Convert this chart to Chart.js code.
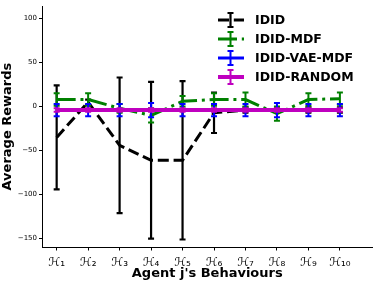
<!DOCTYPE html>
<html>
<head>
<meta charset="utf-8">
<script src="https://cdn.jsdelivr.net/npm/chart.js@4"></script>
<style>
	html, body { margin: 0; padding: 0; background: #fff; }
	#wrap { width: 374px; height: 283px; }
</style>
</head>
<body>
<div id="wrap"><canvas id="chart_rewards" width="374" height="283"></canvas></div>
<script>
// behaviours on the x axis
var behaviours = [1, 2, 3, 4, 5, 6, 7, 8, 9, 10];
var behaviour_labels = ["ℋ₁", "ℋ₂", "ℋ₃", "ℋ₄", "ℋ₅", "ℋ₆", "ℋ₇", "ℋ₈", "ℋ₉", "ℋ₁₀"];
var y_ticks = [-150, -100, -50, 0, 50, 100];

// mean rewards and error per method
var idid_mean = [-35, 5, -44, -61, -61, -7, -4, -4, -4, -4];
var idid_err = [59, 3, 77, 89, 90, 23, 3, 3, 3, 3];
var mdf_mean = [8, 8, -2, -10, 6, 8, 8, -8, 8, 9];
var mdf_err = [7, 7, 5, 8, 6, 7, 8, 8, 7, 7];
var vae_mean = [-4, -4, -4, -4, -4, -4, -4, -4, -4, -4];
var vae_err = [7, 7, 7, 8, 7, 7, 7, 8, 7, 7];
var random_mean = [-4, -4, -4, -4, -4, -4, -4, -4, -4, -4];
var random_err = [2, 2, 2, 2, 2, 2, 2, 2, 2, 2];

var series_names = ["IDID", "IDID-MDF", "IDID-VAE-MDF", "IDID-RANDOM"];

function points(values)
{
	return behaviours.map(function(b, i){ return { x: b, y: values[i] }; });
}

function minus(v)
{
	return String(v).replace("-", "\u2212");
}

//error bars, drawn right after each dataset's line
var errorbar_plugin = {
	id: 'errorbars',
	afterDatasetDraw: function(chart, args)
	{
		var ds = chart.data.datasets[args.index];
		var xs = chart.scales.x, ys = chart.scales.y;
		var ctx = chart.ctx;
		ctx.save();
		ctx.strokeStyle = ds.borderColor;
		ctx.lineWidth = ds.errWidth;
		ctx.setLineDash([]);
		ds.data.forEach(function(p, i){
			var x = xs.getPixelForValue(p.x);
			var top = ys.getPixelForValue(p.y + ds.errors[i]);
			var bot = ys.getPixelForValue(p.y - ds.errors[i]);
			ctx.beginPath();
			ctx.moveTo(x, top); ctx.lineTo(x, bot);
			ctx.moveTo(x - 3, top); ctx.lineTo(x + 3, top);
			ctx.moveTo(x - 3, bot); ctx.lineTo(x + 3, bot);
			ctx.stroke();
		});
		ctx.restore();
	}
};

//legend with errorbar glyphs, no frame
var legend_plugin = {
	id: 'errlegend',
	afterDraw: function(chart)
	{
		var ctx = chart.ctx;
		var rows = [20, 39, 58, 77];
		ctx.save();
		chart.data.datasets.forEach(function(ds, i){
			var cy = rows[i];
			ctx.strokeStyle = ds.borderColor;
			ctx.lineWidth = ds.borderWidth;
			ctx.setLineDash(ds.borderDash || []);
			ctx.beginPath();
			ctx.moveTo(218, cy); ctx.lineTo(244, cy);
			ctx.stroke();
			ctx.setLineDash([]);
			ctx.lineWidth = ds.errWidth;
			ctx.beginPath();
			ctx.moveTo(230.5, cy - 7); ctx.lineTo(230.5, cy + 7);
			ctx.moveTo(227.5, cy - 7); ctx.lineTo(233.5, cy - 7);
			ctx.moveTo(227.5, cy + 7); ctx.lineTo(233.5, cy + 7);
			ctx.stroke();
			ctx.fillStyle = '#000';
			ctx.font = 'bold 12.5px "DejaVu Sans"';
			ctx.textBaseline = 'middle';
			ctx.fillText(ds.label, 255, cy + 1);
		});
		ctx.restore();
	}
};

var params_rewards = {
	type: 'line',
	data: {
		datasets: [
			{
				label: series_names[0], data: points(idid_mean), errors: idid_err,
				borderColor: '#000000', borderWidth: 3, borderDash: [11, 4.8], errWidth: 2.2,
				pointRadius: 0, order: 4
			},
			{
				label: series_names[1], data: points(mdf_mean), errors: mdf_err,
				borderColor: '#008000', borderWidth: 3, borderDash: [19, 4.8, 3, 4.8], errWidth: 2,
				pointRadius: 0, order: 3
			},
			{
				label: series_names[2], data: points(vae_mean), errors: vae_err,
				borderColor: '#0000ff', borderWidth: 3, errWidth: 2,
				pointRadius: 0, order: 2
			},
			{
				label: series_names[3], data: points(random_mean), errors: random_err,
				borderColor: '#bf00bf', borderWidth: 4, errWidth: 2,
				pointRadius: 0, order: 1
			}
		]
	},
	options: {
		responsive: false,
		animation: false,
		devicePixelRatio: 1,
		layout: { padding: { top: 3, right: 2, left: 0, bottom: 0 } },
		plugins: { legend: { display: false }, tooltip: { enabled: false } },
		scales: {
			x: {
				type: 'linear', min: 0.55, max: 11.02,
				afterBuildTicks: function(scale){
					scale.ticks = behaviours.map(function(b){ return { value: b }; });
				},
				afterFit: function(scale){ scale.height = 36; },
				ticks: {
					color: '#000', padding: 5, maxRotation: 0, autoSkip: false,
					font: { family: '"DejaVu Sans"', size: 12 },
					callback: function(v){ return behaviour_labels[behaviours.indexOf(v)]; }
				},
				grid: { display: true, drawOnChartArea: false, drawTicks: true, tickLength: 3.5, tickColor: '#000', tickWidth: 1 },
				border: { display: true, color: '#000', width: 1 },
				title: {
					display: true, text: "Agent j's Behaviours", color: '#000',
					font: { family: '"DejaVu Sans"', size: 13, weight: 'bold' },
					padding: { top: 0, bottom: 2 }
				}
			},
			y: {
				type: 'linear', min: -159.5, max: 114,
				afterBuildTicks: function(scale){
					scale.ticks = y_ticks.map(function(t){ return { value: t }; });
				},
				afterFit: function(scale){ scale.width = 42.5; },
				ticks: {
					color: '#000', padding: 2,
					font: { family: '"DejaVu Sans"', size: 7 },
					callback: function(v){ return minus(v); }
				},
				grid: { display: true, drawOnChartArea: false, drawTicks: true, tickLength: 3.5, tickColor: '#000', tickWidth: 1 },
				border: { display: true, color: '#000', width: 1 },
				title: {
					display: true, text: "Average Rewards", color: '#000',
					font: { family: '"DejaVu Sans"', size: 13, weight: 'bold' },
					padding: { top: 0, bottom: 0 }
				}
			}
		}
	},
	plugins: [errorbar_plugin, legend_plugin]
};

new Chart(document.getElementById("chart_rewards"), params_rewards);
</script>
</body>
</html>
